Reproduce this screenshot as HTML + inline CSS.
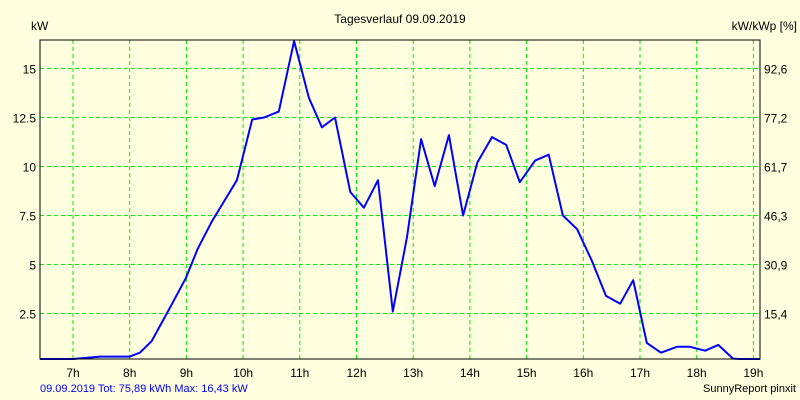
<!DOCTYPE html>
<html><head><meta charset="utf-8"><style>
html,body{margin:0;padding:0;background:#ffffdf;}
svg{display:block;font-family:"Liberation Sans",sans-serif;}
</style></head><body>
<svg id="c" width="800" height="400" viewBox="0 0 800 400">
<rect x="0" y="0" width="800" height="400" fill="#ffffdf"/>
<text x="400" y="23" font-size="12" text-anchor="middle">Tagesverlauf 09.09.2019</text>
<text x="31" y="30" font-size="12">kW</text>
<text x="797" y="30" font-size="12" text-anchor="end">kW/kWp [%]</text>
<g id="grid"></g>
<g id="ticks"></g>
<path id="line" fill="none" stroke="#0000ff" stroke-width="2" stroke-linejoin="round"/>
<rect x="40" y="40" width="720" height="319" fill="none" stroke="#000" stroke-width="1"/>
<text x="40" y="392" font-size="11" fill="#0000ff">09.09.2019 Tot: 75,89 kWh Max: 16,43 kW</text>
<text x="796" y="392" font-size="11" text-anchor="end">SunnyReport pinxit</text>
</svg>
<script>
const hours=[6.42,7.0,7.48,8.0,8.18,8.39,8.71,8.99,9.2,9.45,9.89,10.16,10.37,10.63,10.9,11.16,11.39,11.62,11.89,12.13,12.38,12.64,12.89,13.14,13.38,13.63,13.88,14.13,14.39,14.64,14.88,15.15,15.39,15.64,15.89,16.15,16.4,16.65,16.88,17.12,17.37,17.65,17.88,18.15,18.38,18.64,18.76,19.12];
const power=[0,0,0.3,0.3,0.5,1.1,2.8,4.3,5.8,7.2,9.3,12.4,12.5,12.8,16.4,13.5,12.0,12.5,8.7,7.9,9.3,2.6,6.4,11.4,9.0,11.6,7.5,10.2,11.5,11.1,9.2,10.3,10.6,7.5,6.8,5.2,3.4,3.0,4.2,1.0,0.5,0.8,0.8,0.6,0.9,0.2,0,0];
const yTicks=[2.5,5,7.5,10,12.5,15];
const yTickLabels=["2.5","5","7.5","10","12.5","15"];
const rightTickLabels=["15,4","30,9","46,3","61,7","77,2","92,6"];
const xTicks=[7,8,9,10,11,12,13,14,15,16,17,18,19];
const xTickLabels=["7h","8h","9h","10h","11h","12h","13h","14h","15h","16h","17h","18h","19h"];
const NS="http://www.w3.org/2000/svg";
const xs=h=>73+(h-7)*56.7;
const ys=v=>Math.min(359,362.5-v*19.6);
const grid=document.getElementById('grid'),ticks=document.getElementById('ticks');
function mk(tag,attrs,parent){const e=document.createElementNS(NS,tag);for(const k in attrs)e.setAttribute(k,attrs[k]);parent.appendChild(e);return e;}
yTicks.forEach((v,i)=>{
  const y=ys(v);
  const l=mk('line',{x1:40,x2:760,y1:y,y2:y,stroke:'#00ee00','stroke-dasharray':'4,3'},grid);
  
  
  const t=mk('text',{x:36,y:y+5,'font-size':12,'text-anchor':'end'},ticks);t.textContent=yTickLabels[i];
  
  
  const r=mk('text',{x:764,y:y+5,'font-size':12},ticks);r.textContent=rightTickLabels[i];
  
  
});
xTicks.forEach((h,i)=>{
  const x=xs(h);
  const l=mk('line',{x1:x,x2:x,y1:40,y2:359,stroke:'#00ee00','stroke-dasharray':'4,3'},grid);
  
  
  const t=mk('text',{x:x,y:377,'font-size':12,'text-anchor':'middle'},ticks);t.textContent=xTickLabels[i];
  
  
});
document.getElementById('line').setAttribute('d',hours.map((h,i)=>(i?'L':'M')+xs(h).toFixed(1)+','+ys(power[i]).toFixed(1)).join(' '));
</script>
</body></html>
